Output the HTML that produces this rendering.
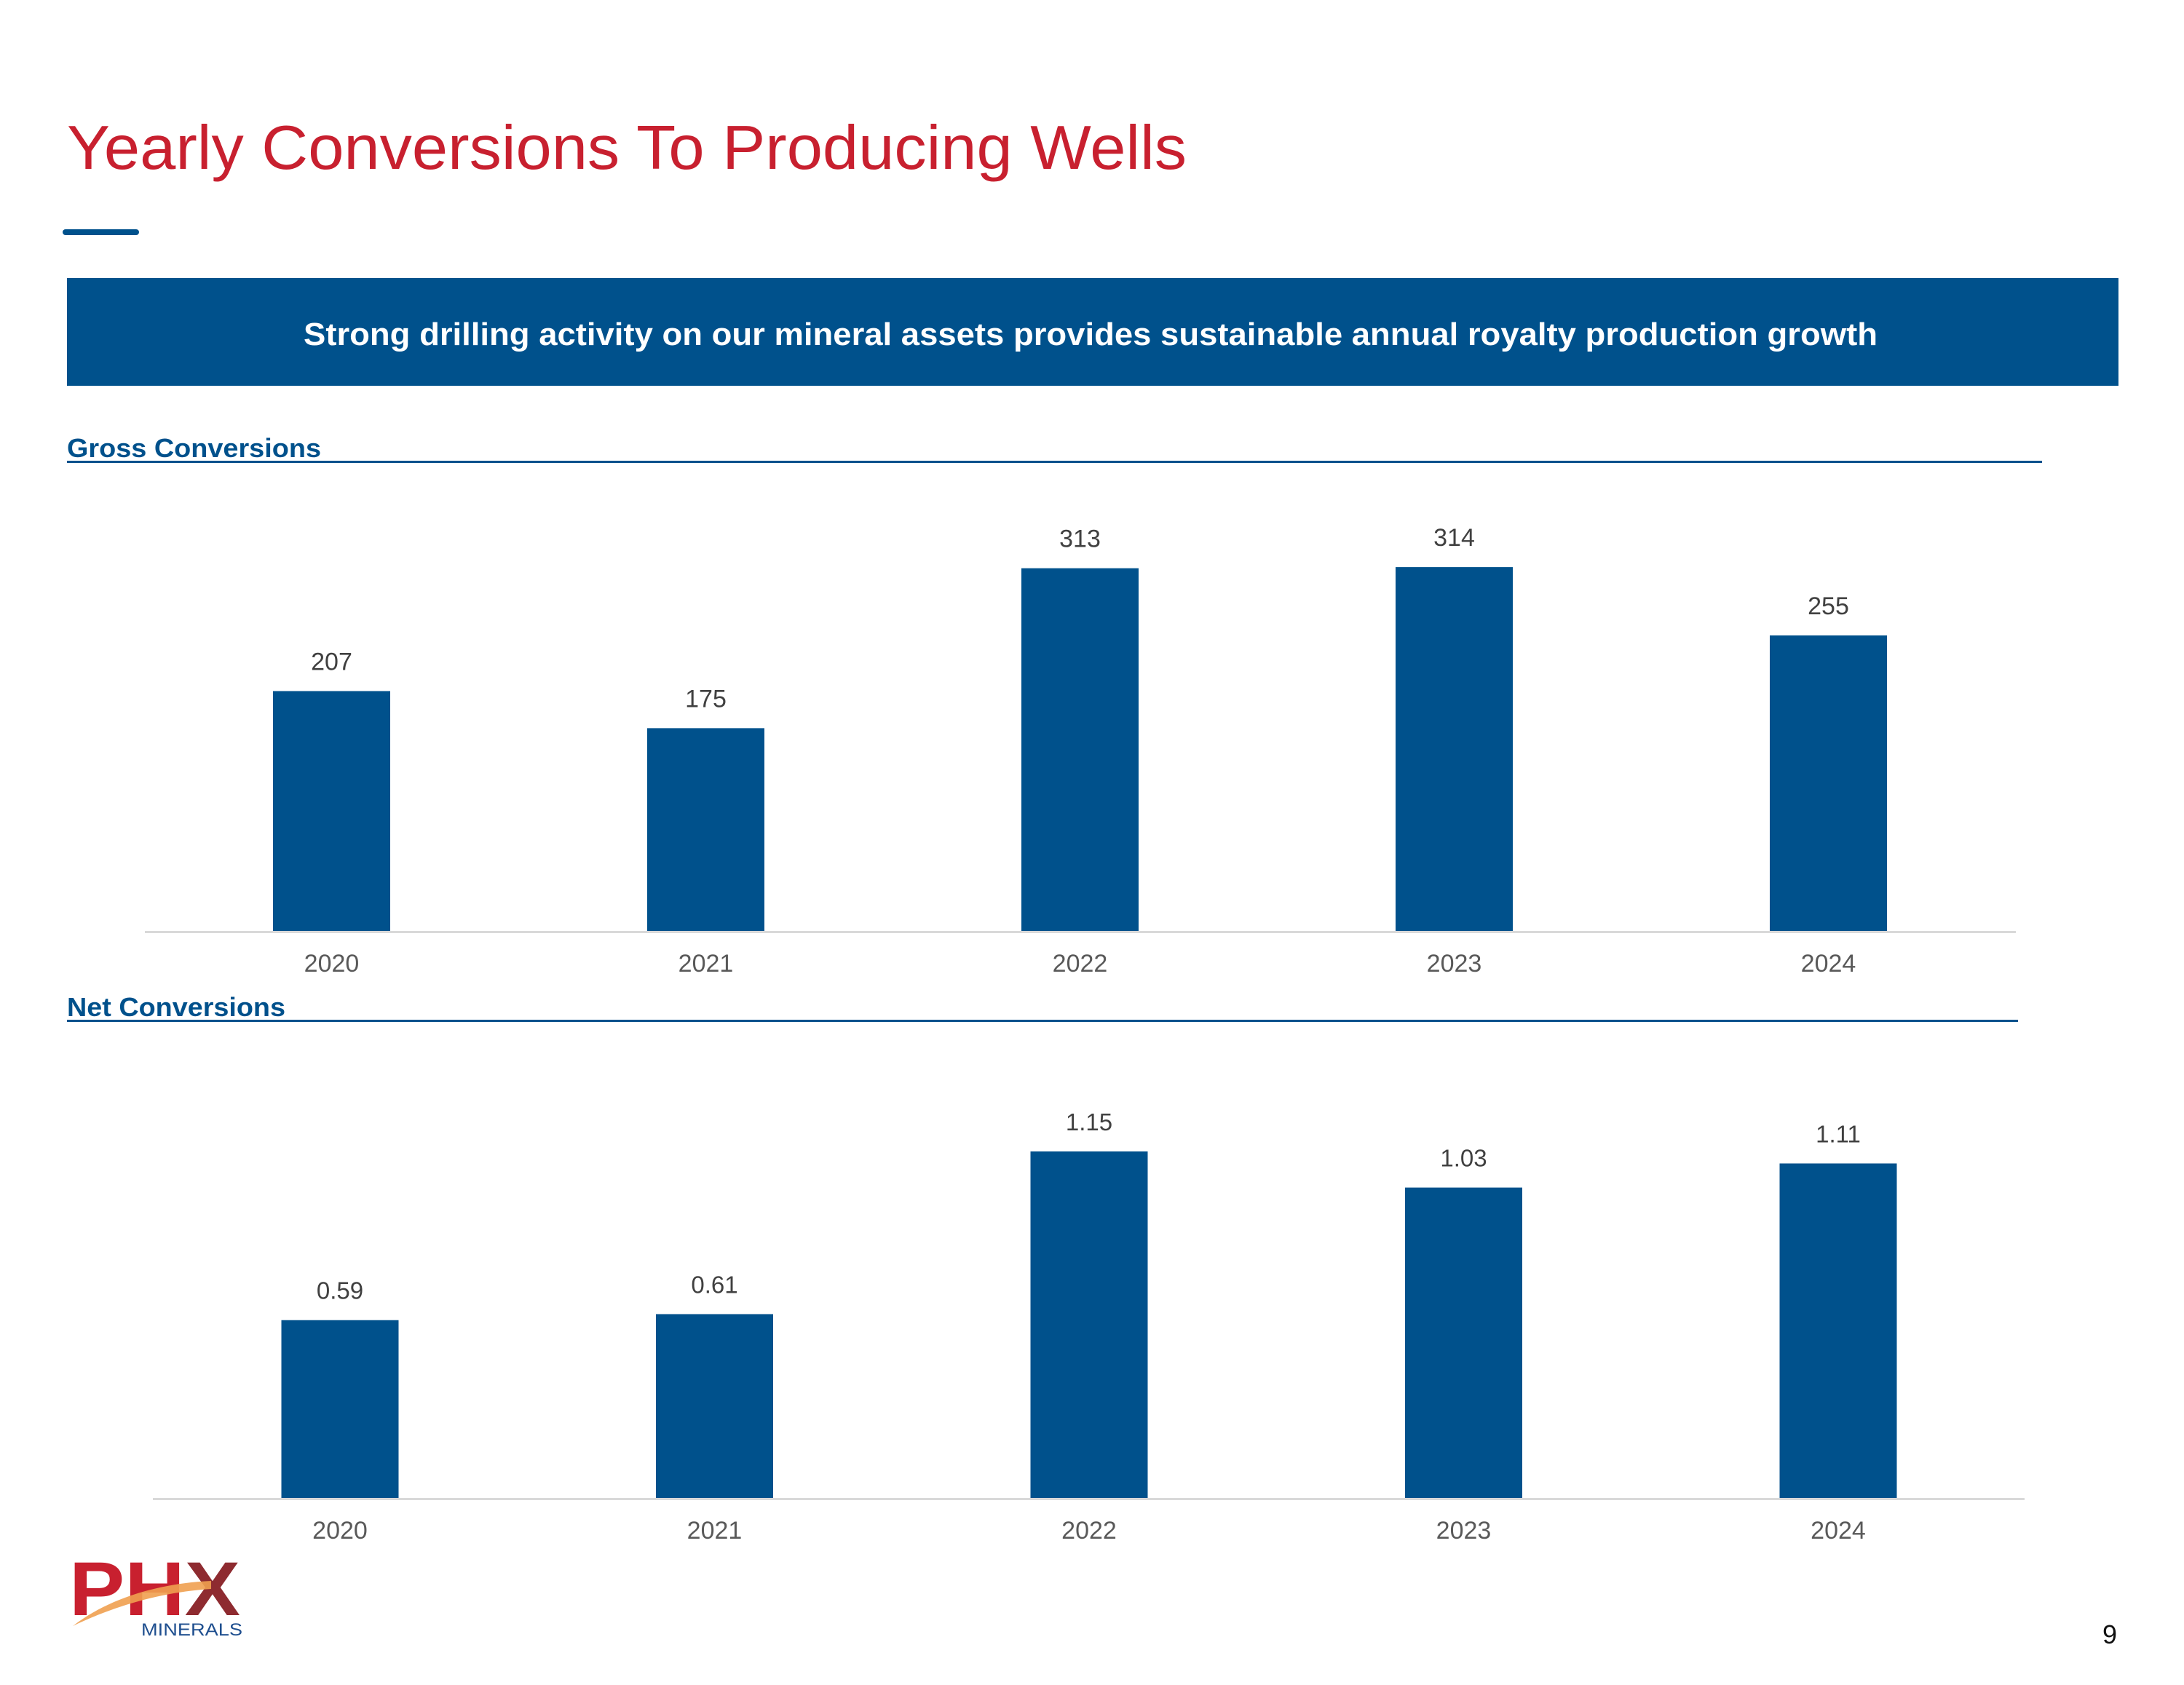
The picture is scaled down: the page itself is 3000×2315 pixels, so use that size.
<!DOCTYPE html>
<html><head><meta charset="utf-8"><style>
html,body{margin:0;padding:0;background:#fff;}
body{width:3000px;height:2315px;position:relative;overflow:hidden;font-family:"Liberation Sans",Arial,sans-serif;}
</style></head><body>
<svg width="3000" height="2315" viewBox="0 0 3000 2315" xmlns="http://www.w3.org/2000/svg" style="position:absolute;left:0;top:0" font-family="Liberation Sans, Arial, sans-serif">
<text x="92" y="232" font-size="85" fill="#c8202f" textLength="1538" lengthAdjust="spacingAndGlyphs">Yearly Conversions To Producing Wells</text>
<rect x="86" y="315" width="105" height="8" rx="4" fill="#00518c"/>
<rect x="92" y="382" width="2818" height="148" fill="#00518c"/>
<text x="417" y="474" font-size="44" font-weight="bold" fill="#fff" textLength="2162" lengthAdjust="spacingAndGlyphs">Strong drilling activity on our mineral assets provides sustainable annual royalty production growth</text>
<text x="92" y="628" font-size="36" font-weight="bold" fill="#00518c" textLength="349" lengthAdjust="spacingAndGlyphs">Gross Conversions</text>
<rect x="92" y="633" width="2713" height="3" fill="#00518c"/>
<text x="92" y="1396" font-size="36" font-weight="bold" fill="#00518c" textLength="300" lengthAdjust="spacingAndGlyphs">Net Conversions</text>
<rect x="92" y="1401" width="2680" height="3" fill="#00518c"/>
<g id="gross"></g>
<g id="net"></g>
<g>
<text x="95" y="2219" font-size="105" font-weight="bold" fill="#c8202f" textLength="235" lengthAdjust="spacingAndGlyphs">PH<tspan fill="#8e2b30">X</tspan></text>
<path d="M100 2234 C150 2195 220 2175 290 2172 L290 2183 C225 2187 160 2205 100 2234 Z" fill="#f0a050" opacity="0.9"/>
<text x="194" y="2247" font-size="24" fill="#1f4f8f" textLength="139" lengthAdjust="spacingAndGlyphs">MINERALS</text>
</g>
<text x="2908" y="2258" font-size="36" fill="#111" text-anchor="end">9</text>
</svg>
<script>
const years = ["2020","2021","2022","2023","2024"];
const grossValues = [207,175,313,314,255];
const grossLabels = ["207","175","313","314","255"];
const netValues = [0.59,0.61,1.15,1.03,1.11];
const netLabels = ["0.59","0.61","1.15","1.03","1.11"];
const NS="http://www.w3.org/2000/svg";
function el(tag,attrs,parent){const e=document.createElementNS(NS,tag);for(const k in attrs)e.setAttribute(k,attrs[k]);parent.appendChild(e);return e;}
function draw(gid,values,labels,cfg){
  const g=document.getElementById(gid);
  const x=i=>cfg.x0+i*cfg.step;
  const y=v=>cfg.base-v*cfg.scale;
  const ax=el('rect',{x:cfg.axL,y:cfg.base,width:cfg.axR-cfg.axL,height:3,fill:'#d9d9d9'},g);
  
  
  values.forEach((v,i)=>{
    const b=el('rect',{x:x(i)-80.5,y:y(v),width:161,height:cfg.base-y(v),fill:'#00518c'},g);
    
    
    const t=el('text',{x:x(i),y:y(v)-29,'font-size':cfg.fs,fill:'#404040','text-anchor':'middle'},g);
    t.textContent=labels[i];
    
    
    const c=el('text',{x:x(i),y:cfg.base+56,'font-size':34,fill:'#595959','text-anchor':'middle'},g);
    c.textContent=years[i];
    
    
  });
}
draw('gross',grossValues,grossLabels,{x0:455.5,step:514,base:1279,scale:1.592,axL:199,axR:2769,fs:34});
draw('net',netValues,netLabels,{x0:467,step:514.5,base:2058,scale:414,axL:210,axR:2781,fs:33});
</script>
</body></html>
